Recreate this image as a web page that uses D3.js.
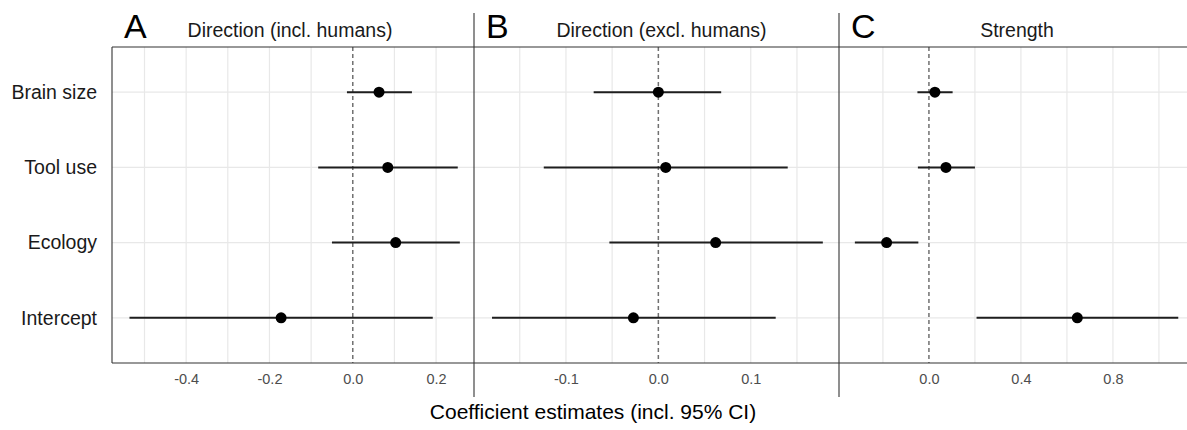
<!DOCTYPE html>
<html>
<head>
<meta charset="utf-8">
<script src="https://cdn.jsdelivr.net/npm/d3@7"></script>
<style>
  body { margin: 0; background: #fff; }
  text { font-family: "Liberation Sans", Arial, sans-serif; }
</style>
</head>
<body>
<svg id="chart" width="1187" height="430"></svg>
<script>
// predictors, top to bottom
const predictors = ['Brain size', 'Tool use', 'Ecology', 'Intercept']

// panel A: direction incl. humans
const estA = [0.063, 0.084, 0.103, -0.172]
const loA = [-0.014, -0.083, -0.05, -0.536]
const hiA = [0.142, 0.252, 0.257, 0.192]

// panel B: direction excl. humans
const estB = [0.0, 0.008, 0.062, -0.027]
const loB = [-0.07, -0.124, -0.053, -0.18]
const hiB = [0.068, 0.14, 0.178, 0.127]

// panel C: strength
const estC = [0.026, 0.074, -0.184, 0.645]
const loC = [-0.05, -0.048, -0.322, 0.207]
const hiC = [0.103, 0.2, -0.046, 1.084]

const ticksA = [-0.4, -0.2, 0.0, 0.2]
const ticksB = [-0.1, 0.0, 0.1]
const ticksC = [0.0, 0.4, 0.8]

const TOP = 47, BOTTOM = 363

const panels = [
  { letter: 'A', title: 'Direction (incl. humans)', est: estA, lo: loA, hi: hiA,
    ticks: ticksA, minor: 0.1, domain: [-0.578, 0.291], range: [112, 474], shift: -3 },
  { letter: 'B', title: 'Direction (excl. humans)', est: estB, lo: loB, hi: hiB,
    ticks: ticksB, minor: 0.05, domain: [-0.1995, 0.1955], range: [474, 839], shift: 5 },
  { letter: 'C', title: 'Strength', est: estC, lo: loC, hi: hiC,
    ticks: ticksC, minor: 0.2, domain: [-0.391, 1.122], range: [839, 1187], shift: 4 }
]

// ggplot style labels: plain hyphen for negatives
const fmt = function(v) { return v.toFixed(1) }

const svg = d3.select('#chart')

const y = d3.scalePoint()
  .domain(predictors)
  .range([TOP, BOTTOM])
  .padding(0.6)

panels.forEach(function(p, k) {
  const x = d3.scaleLinear().domain(p.domain).range(p.range)
  const g = svg.append('g')

  // vertical grid: every half step between labelled ticks
  const step = p.minor
  const grid = []
  for (let i = Math.ceil(p.domain[0] / step); i * step <= p.domain[1]; i++) {
    grid.push(+(i * step).toFixed(4))
  }
  g.selectAll('line.vgrid')
    .data(grid.filter(function(v) { return v !== 0 }))
    .enter()
    .append('line')
    .attr('x1', function(d) { return x(d) })
    .attr('x2', function(d) { return x(d) })
    .attr('y1', TOP)
    .attr('y2', BOTTOM)
    .attr('stroke', '#e8e8e8')
    .attr('stroke-width', 1.2)

  g.selectAll('line.hgrid')
    .data(predictors)
    .enter()
    .append('line')
    .attr('x1', p.range[0])
    .attr('x2', p.range[1])
    .attr('y1', function(d) { return y(d) })
    .attr('y2', function(d) { return y(d) })
    .attr('stroke', '#e8e8e8')
    .attr('stroke-width', 1.2)

  // zero reference
  g.append('line')
    .attr('x1', x(0))
    .attr('x2', x(0))
    .attr('y1', TOP)
    .attr('y2', BOTTOM)
    .attr('stroke', '#707070')
    .attr('stroke-width', 1.5)
    .attr('stroke-dasharray', '4,3')

  // x axis
  const axis = g.append('g')
    .attr('transform', 'translate(0,' + BOTTOM + ')')
    .call(d3.axisBottom(x).tickValues(p.ticks).tickSize(0).tickPadding(11).tickFormat(fmt))
  axis.select('.domain').remove()
  axis.selectAll('text')
    .attr('fill', '#4d4d4d')
    .style('font-size', '14.5px')
    .style('font-family', '"Liberation Sans", Arial, sans-serif')

  // intervals
  const rows = predictors.map(function(name, i) {
    return { name: name, est: p.est[i], lo: p.lo[i], hi: p.hi[i] }
  })

  g.selectAll('line.ci')
    .data(rows)
    .enter()
    .append('line')
    .attr('x1', function(d) { return x(d.lo) })
    .attr('x2', function(d) { return x(d.hi) })
    .attr('y1', function(d) { return y(d.name) })
    .attr('y2', function(d) { return y(d.name) })
    .attr('stroke', '#1e1e1e')
    .attr('stroke-width', 2)

  g.selectAll('circle')
    .data(rows)
    .enter()
    .append('circle')
    .attr('cx', function(d) { return x(d.est) })
    .attr('cy', function(d) { return y(d.name) })
    .attr('r', 5.5)
    .attr('fill', '#000')

  // header
  g.append('text')
    .attr('x', p.range[0] + 12)
    .attr('y', 38)
    .style('font-size', '34px')
    .attr('fill', '#000')
    .text(p.letter)

  g.append('text')
    .attr('x', (p.range[0] + p.range[1]) / 2 + p.shift)
    .attr('y', 37)
    .attr('text-anchor', 'middle')
    .style('font-size', '19.5px')
    .attr('fill', '#1a1a1a')
    .text(p.title)

  // separator on left of B and C
  if (k > 0) {
    g.append('line')
      .attr('x1', p.range[0])
      .attr('x2', p.range[0])
      .attr('y1', 13)
      .attr('y2', 397)
      .attr('stroke', '#333')
      .attr('stroke-width', 1.1)
  }
})

// frame lines
svg.append('line')
  .attr('x1', 112).attr('x2', 1187)
  .attr('y1', TOP).attr('y2', TOP)
  .attr('stroke', '#333').attr('stroke-width', 1.1)
svg.append('line')
  .attr('x1', 112).attr('x2', 1187)
  .attr('y1', BOTTOM).attr('y2', BOTTOM)
  .attr('stroke', '#333').attr('stroke-width', 1.1)
svg.append('line')
  .attr('x1', 112).attr('x2', 112)
  .attr('y1', TOP).attr('y2', BOTTOM)
  .attr('stroke', '#333').attr('stroke-width', 1.1)

// y labels
svg.selectAll('text.ylab')
  .data(predictors)
  .enter()
  .append('text')
  .attr('x', 97)
  .attr('y', function(d) { return y(d) })
  .attr('dy', '0.35em')
  .attr('text-anchor', 'end')
  .style('font-size', '19.5px')
  .attr('fill', '#1a1a1a')
  .text(function(d) { return d })

svg.append('text')
  .attr('x', 593)
  .attr('y', 419)
  .attr('text-anchor', 'middle')
  .style('font-size', '21px')
  .attr('fill', '#000')
  .text('Coefficient estimates (incl. 95% CI)')
</script>
</body>
</html>
